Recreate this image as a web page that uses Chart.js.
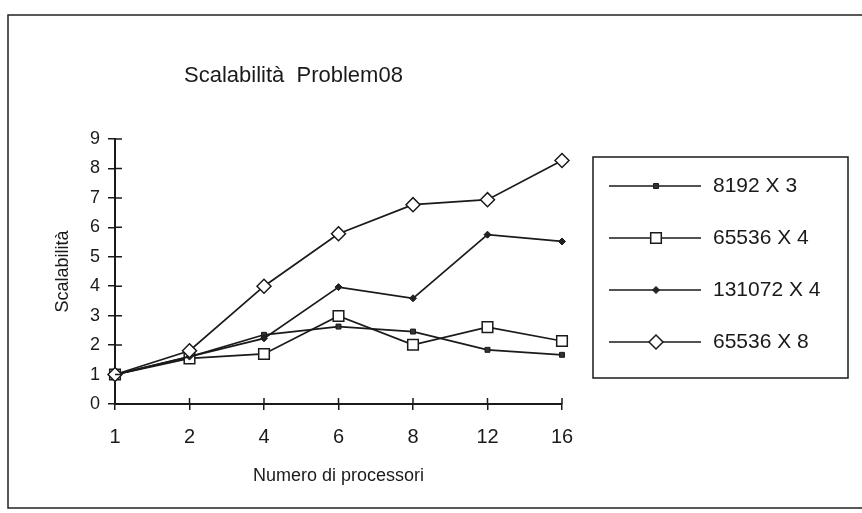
<!DOCTYPE html>
<html>
<head>
<meta charset="utf-8">
<script src="https://cdn.jsdelivr.net/npm/chart.js@4.4.0/dist/chart.umd.min.js"></script>
<style>
  html, body { margin: 0; padding: 0; background: #fff; }
  #wrap { width: 862px; height: 513px; }
</style>
</head>
<body>
<div id="wrap"><canvas id="scalChart" width="862" height="513"></canvas></div>
<script>
// numero di processori (asse x)
const processori = ['1', '2', '4', '6', '8', '12', '16'];
const nomiSerie = ['8192 X 3', '65536 X 4', '131072 X 4', '65536 X 8'];

// scalabilità
const serie8192x3 = [1.0, 1.6, 2.35, 2.63, 2.46, 1.84, 1.67];
const serie65536x4 = [1.0, 1.55, 1.70, 2.99, 2.01, 2.61, 2.14];
const serie131072x4 = [1.0, 1.61, 2.23, 3.97, 3.59, 5.75, 5.52];
const serie65536x8 = [1.0, 1.81, 4.0, 5.78, 6.77, 6.94, 8.27];

const FONT = '"Liberation Sans", sans-serif';
const INK = '#1a1a1a';

// stile dei marker per ogni serie
const markers = [
    { pointStyle: 'rect', radius: 3.5, fill: '#333', border: 1 },
    { pointStyle: 'rect', radius: 7.5, fill: '#fff', border: 1.5 },
    { pointStyle: 'rectRot', radius: 3.5, fill: '#222', border: 1 },
    { pointStyle: 'rectRot', radius: 7, fill: '#fff', border: 1.5 }
];

const valori = [serie8192x3, serie65536x4, serie131072x4, serie65536x8];

const datasets = valori.map(function (v, i) {
    const m = markers[i];
    return {
        label: nomiSerie[i],
        data: v,
        borderColor: INK,
        borderWidth: 1.7,
        backgroundColor: m.fill,
        pointStyle: m.pointStyle,
        pointRadius: m.radius,
        pointBackgroundColor: m.fill,
        pointBorderColor: INK,
        pointBorderWidth: m.border,
        tension: 0,
        order: 3 - i
    };
});

// cornice, titolo, tacche interne e legenda disegnati a mano
const decorPlugin = {
    id: 'decor',
    beforeDraw: function (chart) {
        const ctx = chart.ctx;
        ctx.save();
        ctx.fillStyle = '#fff';
        ctx.fillRect(0, 0, chart.width, chart.height);
        ctx.strokeStyle = '#222';
        ctx.lineWidth = 1.5;
        ctx.strokeRect(8, 15, 870, 493);
        ctx.restore();
    },
    afterDraw: function (chart) {
        const ctx = chart.ctx;
        const xs = chart.scales.x;
        const ys = chart.scales.y;
        ctx.save();

        // titolo
        ctx.fillStyle = INK;
        ctx.font = '22px ' + FONT;
        ctx.textBaseline = 'middle';
        ctx.textAlign = 'left';
        ctx.fillText('Scalabilità  Problem08', 184, 76);

        // tacche che attraversano gli assi
        ctx.strokeStyle = INK;
        ctx.lineWidth = 1.5;
        ctx.beginPath();
        ys.ticks.forEach(function (t, i) {
            const y = ys.getPixelForTick(i);
            ctx.moveTo(xs.left, y);
            ctx.lineTo(xs.left + 7, y);
        });
        xs.ticks.forEach(function (t, i) {
            const x = xs.getPixelForTick(i);
            ctx.moveTo(x, ys.bottom);
            ctx.lineTo(x, ys.bottom - 6);
        });
        ctx.stroke();

        // legenda
        const box = { x: 593, y: 157, w: 255, h: 221 };
        ctx.lineWidth = 1.5;
        ctx.strokeRect(box.x, box.y, box.w, box.h);
        const rowY = [186, 238, 290, 342];
        chart.data.datasets.forEach(function (ds, i) {
            const y = rowY[i];
            ctx.strokeStyle = INK;
            ctx.lineWidth = 1.6;
            ctx.beginPath();
            ctx.moveTo(609, y);
            ctx.lineTo(701, y);
            ctx.stroke();
            ctx.fillStyle = ds.pointBackgroundColor;
            ctx.strokeStyle = INK;
            ctx.lineWidth = ds.pointBorderWidth;
            Chart.helpers.drawPoint(ctx, {
                pointStyle: ds.pointStyle,
                radius: ds.pointRadius,
                rotation: 0,
                borderWidth: ds.pointBorderWidth
            }, 656, y);
            ctx.fillStyle = INK;
            ctx.font = '21px ' + FONT;
            ctx.textAlign = 'left';
            ctx.textBaseline = 'middle';
            ctx.fillText(ds.label, 713, y);
        });
        ctx.restore();
    }
};

const ctx = document.getElementById('scalChart').getContext('2d');

new Chart(ctx, {
    type: 'line',
    data: {
        labels: processori,
        datasets: datasets
    },
    options: {
        responsive: false,
        animation: false,
        layout: {
            padding: { left: 52, right: 300, top: 139, bottom: 26 }
        },
        plugins: {
            legend: { display: false },
            title: { display: false },
            tooltip: { enabled: false }
        },
        scales: {
            x: {
                type: 'category',
                offset: false,
                afterFit: function (scale) { scale.height = 83; },
                grid: {
                    drawOnChartArea: false,
                    tickLength: 6,
                    color: INK,
                    lineWidth: 1.5
                },
                border: { display: true, color: INK, width: 2 },
                ticks: {
                    color: INK,
                    font: { family: FONT, size: 20 },
                    padding: 15,
                    maxRotation: 0
                },
                title: {
                    display: true,
                    text: 'Numero di processori',
                    color: INK,
                    font: { family: FONT, size: 18 },
                    padding: { top: 0, bottom: 0 }
                }
            },
            y: {
                min: 0,
                max: 9,
                afterFit: function (scale) { scale.width = 63; },
                grid: {
                    drawOnChartArea: false,
                    tickLength: 7,
                    color: INK,
                    lineWidth: 1.5
                },
                border: { display: true, color: INK, width: 2 },
                ticks: {
                    stepSize: 1,
                    color: INK,
                    font: { family: FONT, size: 18 },
                    padding: 8
                },
                title: {
                    display: true,
                    text: 'Scalabilità',
                    color: INK,
                    font: { family: FONT, size: 18 },
                    padding: { top: 0, bottom: 0 }
                }
            }
        }
    },
    plugins: [decorPlugin]
});
</script>
</body>
</html>
